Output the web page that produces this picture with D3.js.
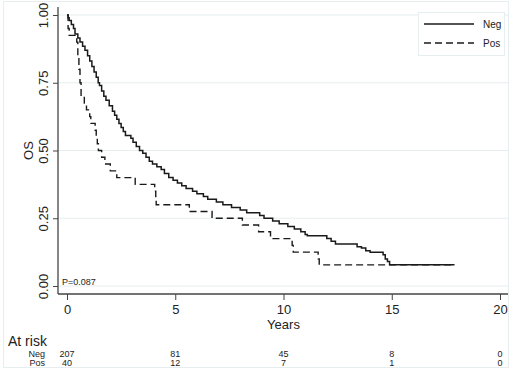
<!DOCTYPE html>
<html>
<head>
<meta charset="utf-8">
<script src="https://cdn.jsdelivr.net/npm/d3@7"></script>
<style>
  body { margin: 0; background: #fff; }
  svg { display: block; font-family: "Liberation Sans", Arial, sans-serif; }
</style>
</head>
<body>
<div class="km-container"></div>
<script>
// KM estimates (years, survival)
const negTime = [0, 0.05, 0.1, 0.2, 0.3, 0.37, 0.5, 0.6, 0.72, 0.83, 0.95, 1.05, 1.15, 1.25, 1.35, 1.44, 1.5, 1.6, 1.7, 1.8,
    1.95, 2.1, 2.2, 2.3, 2.4, 2.5, 2.6, 2.7, 2.95, 3.05, 3.2, 3.35, 3.5, 3.65, 3.8, 3.95, 4.15, 4.35, 4.5, 4.7,
    4.9, 5.1, 5.3, 5.5, 5.8, 6.0, 6.3, 6.5, 6.9, 7.2, 7.6, 8.0, 8.3, 8.9, 9.1, 9.5, 9.8, 10.2, 10.5, 10.8,
    11.0, 11.1, 12.0, 12.2, 12.4, 13.4, 13.6, 13.8, 14.0, 14.6, 14.7, 14.8, 14.9, 17.9]
const negSurv = [1.0, 0.99, 0.98, 0.965, 0.95, 0.93, 0.915, 0.9, 0.885, 0.87, 0.85, 0.83, 0.81, 0.79, 0.77, 0.75, 0.74, 0.72, 0.70, 0.685,
    0.665, 0.645, 0.63, 0.615, 0.6, 0.585, 0.57, 0.555, 0.545, 0.53, 0.515, 0.5, 0.49, 0.475, 0.46, 0.45, 0.44, 0.43, 0.415, 0.40,
    0.39, 0.38, 0.37, 0.36, 0.35, 0.34, 0.33, 0.32, 0.31, 0.30, 0.29, 0.28, 0.27, 0.26, 0.25, 0.24, 0.23, 0.22, 0.21, 0.20,
    0.19, 0.185, 0.175, 0.165, 0.155, 0.145, 0.14, 0.13, 0.125, 0.115, 0.10, 0.09, 0.078, 0.078]

const posTime = [0, 0.05, 0.1, 0.45, 0.5, 0.55, 0.6, 0.65, 0.8, 0.9, 1.05, 1.1, 1.3, 1.35, 1.4, 1.45, 1.6, 1.75, 2.0, 2.3,
    3.15, 4.05, 4.1, 4.12, 5.65, 6.7, 8.1, 8.85, 9.4, 10.4, 10.45, 11.6, 11.65, 17.9]
const posSurv = [1.0, 0.95, 0.925, 0.9, 0.85, 0.8, 0.75, 0.7, 0.675, 0.65, 0.625, 0.6, 0.575, 0.55, 0.525, 0.5, 0.475, 0.45, 0.425, 0.4,
    0.375, 0.35, 0.325, 0.3, 0.275, 0.25, 0.225, 0.2, 0.175, 0.15, 0.125, 0.1, 0.078, 0.078]

const xTicks = [0, 5, 10, 15, 20]
const yTicks = [0, 0.25, 0.5, 0.75, 1]
const negRisk = [207, 81, 45, 8, 0]
const posRisk = [40, 12, 7, 1, 0]

const width = 512, height = 371
const gridColor = '#e6eef0'

const svg = d3.select('.km-container')
    .append('svg')
    .attr('width', width)
    .attr('height', height)

// outer frame
svg.append('rect')
    .attr('x', 3.5).attr('y', 1.5)
    .attr('width', 505).attr('height', 366)
    .attr('fill', 'none')
    .attr('stroke', gridColor)

const xScale = d3.scaleLinear().domain([0, 20]).range([67, 500])
const yScale = d3.scaleLinear().domain([0, 1]).range([286, 15])

// gridlines
svg.append('g')
    .selectAll('line')
    .data(yTicks)
    .join('line')
    .attr('x1', 58).attr('x2', 508)
    .attr('y1', d => yScale(d)).attr('y2', d => yScale(d))
    .attr('stroke', gridColor)
    .attr('stroke-width', 1.2)

// Y axis
const yAxis = d3.axisLeft(yScale).tickValues(yTicks).tickFormat(d3.format('.2f')).tickSize(5).tickSizeOuter(0)
const yAxisGroup = svg.append('g')
    .attr('transform', 'translate(58,0)')
    .call(yAxis)
yAxisGroup.select('.domain').attr('d', 'M0,7V294').attr('stroke', '#444').attr('stroke-width', 1.3)
yAxisGroup.selectAll('.tick line').attr('stroke', '#444')
yAxisGroup.selectAll('.tick text')
    .attr('x', null).attr('dy', null)
    .attr('transform', 'translate(-10,0) rotate(-90)')
    .attr('text-anchor', 'middle')
    .attr('font-size', '13px')
    .attr('fill', '#222')

svg.append('text')
    .attr('transform', `translate(33,${(yScale(0) + yScale(1)) / 2}) rotate(-90)`)
    .attr('text-anchor', 'middle')
    .attr('font-size', '13px')
    .attr('fill', '#222')
    .text('OS')

// X axis
const xAxis = d3.axisBottom(xScale).tickValues(xTicks).tickSize(6).tickSizeOuter(0)
const xAxisGroup = svg.append('g')
    .attr('transform', 'translate(0,294)')
    .call(xAxis)
xAxisGroup.select('.domain').attr('d', 'M58,0H508').attr('stroke', '#444').attr('stroke-width', 1.3)
xAxisGroup.selectAll('.tick line').attr('stroke', '#444')
xAxisGroup.selectAll('.tick text')
    .attr('y', 11)
    .attr('font-size', '13px')
    .attr('fill', '#222')

svg.append('text')
    .attr('x', xScale(10))
    .attr('y', 329)
    .attr('text-anchor', 'middle')
    .attr('font-size', '13px')
    .attr('fill', '#222')
    .text('Years')

// Curves
const line = d3.line()
    .x(d => xScale(d[0]))
    .y(d => yScale(d[1]))
    .curve(d3.curveStepAfter)

svg.append('path')
    .datum(posTime.map((t, i) => [t, posSurv[i]]))
    .attr('d', line)
    .attr('fill', 'none')
    .attr('stroke', '#1a1a1a')
    .attr('stroke-width', 1.4)
    .attr('stroke-dasharray', '7,4')

svg.append('path')
    .datum(negTime.map((t, i) => [t, negSurv[i]]))
    .attr('d', line)
    .attr('fill', 'none')
    .attr('stroke', '#1a1a1a')
    .attr('stroke-width', 1.5)

svg.append('text')
    .attr('x', 62).attr('y', 285)
    .attr('font-size', '9px')
    .attr('fill', '#222')
    .text('P=0.087')

// Legend
const legend = svg.append('g')
legend.append('rect')
    .attr('x', 418.5).attr('y', 12.5)
    .attr('width', 86).attr('height', 43)
    .attr('fill', '#fff')
    .attr('stroke', gridColor)
const legendItems = [{ name: 'Neg', dash: null, y: 24 }, { name: 'Pos', dash: '7,4', y: 43 }]
legendItems.forEach(d => {
    legend.append('line')
        .attr('x1', 424).attr('x2', 474)
        .attr('y1', d.y).attr('y2', d.y)
        .attr('stroke', '#1a1a1a')
        .attr('stroke-width', 1.4)
        .attr('stroke-dasharray', d.dash)
    legend.append('text')
        .attr('x', 483).attr('y', d.y + 3.5)
        .attr('font-size', '10px')
        .attr('fill', '#222')
        .text(d.name)
})

// At risk table
svg.append('text')
    .attr('x', 8).attr('y', 346)
    .attr('font-size', '14px')
    .attr('fill', '#222')
    .text('At risk')

const riskRows = [{ name: 'Neg', values: negRisk, y: 357 }, { name: 'Pos', values: posRisk, y: 366 }]
riskRows.forEach(r => {
    svg.append('text')
        .attr('x', 45).attr('y', r.y)
        .attr('text-anchor', 'end')
        .attr('font-size', '9px')
        .attr('fill', '#222')
        .text(r.name)
    svg.append('g')
        .selectAll('text')
        .data(r.values)
        .join('text')
        .attr('x', (d, i) => xScale(xTicks[i]))
        .attr('y', r.y)
        .attr('text-anchor', 'middle')
        .attr('font-size', '9px')
        .attr('fill', '#222')
        .text(d => d)
})
</script>
</body>
</html>
